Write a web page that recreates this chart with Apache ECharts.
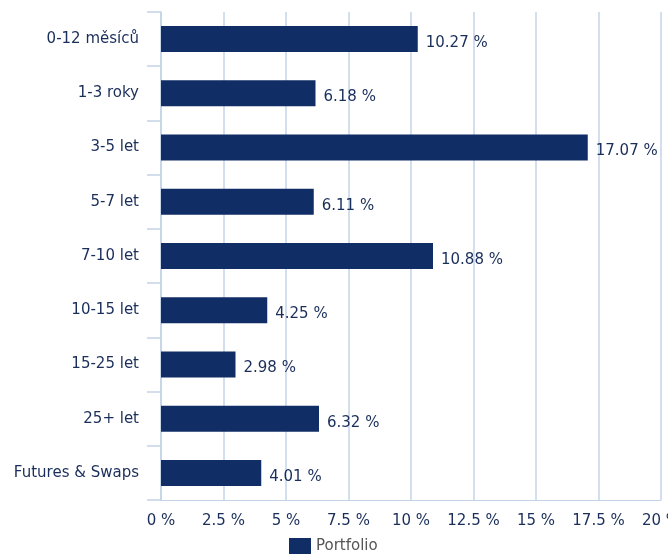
<!DOCTYPE html>
<html><head><meta charset="utf-8">
<script src="https://cdn.jsdelivr.net/npm/echarts@6/dist/echarts.min.js"></script>
<style>html,body{margin:0;padding:0;background:#fff}#c{width:668px;height:557px}</style>
</head><body><div id="c"></div>
<script>
const categories = ["0-12 měsíců","1-3 roky","3-5 let","5-7 let","7-10 let","10-15 let","15-25 let","25+ let","Futures & Swaps"];
const values = [10.27, 6.18, 17.07, 6.11, 10.88, 4.25, 2.98, 6.32, 4.01];
const seriesName = "Portfolio";
const font = "'DejaVu Sans', Verdana, sans-serif";
const chart = echarts.init(document.getElementById('c'));
chart.setOption({
  animation:false,
  grid:{left:161,right:7,top:12,bottom:57,containLabel:false,outerBoundsMode:'none'},
  legend:{data:[seriesName],top:538,left:289,padding:0,icon:'rect',itemWidth:22,itemHeight:16,itemGap:6,
    textStyle:{fontFamily:font,fontSize:15,color:'#555'}},
  xAxis:{type:'value',min:0,max:20,interval:2.5,
    axisLine:{show:true,lineStyle:{color:'#c5d3e8'}},
    axisTick:{show:false},
    splitLine:{lineStyle:{color:'#c5d3e8',width:1.5}},
    axisLabel:{formatter:v=>v+' %',fontFamily:font,fontSize:15,color:'#1a2e5a',margin:14,hideOverlap:false}},
  yAxis:{type:'category',inverse:true,data:categories,
    axisLine:{show:true,lineStyle:{color:'#c5d3e8',width:1.5}},
    axisTick:{show:true,length:14,lineStyle:{color:'#c5d3e8',width:1.5}},
    axisLabel:{fontFamily:font,fontSize:15,color:'#1a2e5a',margin:22,padding:[4,0,0,0]}},
  series:[{name:seriesName,type:'bar',data:values,barWidth:'48%',
    itemStyle:{color:'#112d66'},
    label:{show:true,position:'right',distance:8,formatter:p=>p.value.toFixed(2)+' %',
      fontFamily:font,fontSize:15,color:'#1a2e5a',offset:[0,4]}}]
});
</script></body></html>
